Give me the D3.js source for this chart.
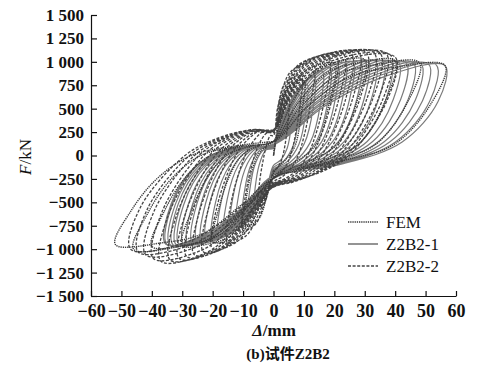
<!DOCTYPE html>
<html>
<head>
<meta charset="utf-8">
<script src="https://cdn.jsdelivr.net/npm/d3@7"></script>
<style>
  body { margin: 0; background: #fff; }
  text { font-family: "Liberation Serif", "Times New Roman", serif; fill: #111; }
</style>
</head>
<body>
<div id="chart"></div>
<script>
// Axis ticks
const xTicks = [-60, -50, -40, -30, -20, -10, 0, 10, 20, 30, 40, 50, 60];
const yTicks = [-1500, -1250, -1000, -750, -500, -250, 0, 250, 500, 750, 1000, 1250, 1500];

// Series names (legend order)
const seriesNames = ["FEM", "Z2B2-1", "Z2B2-2"];

// FEM hysteresis loops: [displacement mm, force kN], one cycle per row
const femCycles = [
  [[0,0],[2,440],[4.5,704],[7,784],[10,800],[9.1,440],[7,96],[4.2,-38],[1.8,-113],[0,-188],[-2,-413],[-4.5,-660],[-7,-735],[-10,-750],[-9,-465],[-7.3,-188],[-5.2,0],[-2.5,98]],
  [[0,147],[4,539],[9,862],[14,960],[20,980],[18.2,539],[14,118],[8.4,-46],[3.6,-138],[0,-230],[-4,-506],[-9,-810],[-14,-902],[-20,-920],[-18,-570],[-14.6,-230],[-10.4,0],[-5,102]],
  [[0,153],[6,561],[13.5,898],[21,1000],[30,1020],[27.3,561],[21,122],[12.6,-48],[5.4,-144],[0,-240],[-6,-528],[-13.5,-845],[-21,-941],[-30,-960],[-27,-595],[-21.9,-240],[-15.6,0],[-7.5,101]],
  [[0,152],[8,556],[18,889],[28,990],[40,1010],[36.4,556],[28,121],[16.8,-49],[7.2,-146],[0,-243],[-8,-534],[-18,-854],[-28,-951],[-40,-970],[-36,-601],[-29.2,-243],[-20.8,0],[-10,99]],
  [[0,149],[9.6,545],[21.6,871],[33.6,970],[48,990],[43.7,545],[33.6,119],[20.2,-50],[8.6,-150],[0,-250],[-9.2,-550],[-20.7,-880],[-32.2,-980],[-46,-1000],[-41.4,-620],[-33.6,-250],[-23.9,0],[-11.5,96]],
  [[0,144],[11.3,528],[25.4,845],[39.5,941],[56.4,960],[51.3,528],[39.5,115],[23.7,-48],[10.2,-143],[0,-238],[-10.4,-523],[-23.4,-836],[-36.4,-931],[-52,-950],[-46.8,-589],[-38,-238],[-27,0],[-13,100],[0,150]]
];

// Test specimen Z2B2-1
const z2b21Cycles = [
  [[0,0],[1.8,286],[3.9,458],[6,520],[5.8,312],[4.5,78],[2.4,-48],[0,-106],[-1.8,-288],[-3.9,-432],[-6,-480],[-5.7,-264],[-4.3,-58],[-2.4,61]],
  [[0,78],[2.6,358],[5.5,572],[8.5,650],[8.2,390],[6.4,98],[3.4,-59],[0,-130],[-2.4,-354],[-5.2,-531],[-8,-590],[-7.6,-325],[-5.8,-71],[-3.2,61]],
  [[0,91],[3.3,418],[7.2,669],[11,760],[10.6,456],[8.3,114],[4.4,-68],[0,-150],[-3,-408],[-6.5,-612],[-10,-680],[-9.5,-374],[-7.2,-82],[-4,72]],
  [[0,101],[4.1,462],[8.8,739],[13.5,840],[13,504],[10.1,126],[5.4,-75],[0,-164],[-3.6,-447],[-7.8,-671],[-12,-745],[-11.4,-410],[-8.6,-89],[-4.8,72]],
  [[0,108],[4.8,495],[10.4,792],[16,900],[15.4,540],[12,135],[6.4,-80],[0,-176],[-4.2,-480],[-9.1,-720],[-14,-800],[-13.3,-440],[-10.1,-96],[-5.6,78]],
  [[0,113],[5.6,517],[12,827],[18.5,940],[17.8,564],[13.9,141],[7.4,-84],[0,-185],[-4.8,-504],[-10.4,-756],[-16,-840],[-15.2,-462],[-11.5,-101],[-6.4,78]],
  [[0,116],[6.3,534],[13.7,854],[21,970],[20.2,582],[15.8,146],[8.4,-87],[0,-191],[-5.4,-522],[-11.7,-783],[-18,-870],[-17.1,-479],[-13,-104],[-7.2,80]],
  [[0,119],[7.1,545],[15.3,871],[23.5,990],[22.6,594],[17.6,149],[9.4,-90],[0,-197],[-6,-537],[-13,-806],[-20,-895],[-19,-492],[-14.4,-107],[-8,80]],
  [[0,120],[7.8,550],[16.9,880],[26,1000],[25,600],[19.5,150],[10.4,-91],[0,-200],[-6.6,-546],[-14.3,-819],[-22,-910],[-20.9,-500],[-15.8,-109],[-8.8,81]],
  [[0,121],[8.6,553],[18.5,884],[28.5,1005],[27.4,603],[21.4,151],[11.4,-92],[0,-203],[-7.1,-553],[-15.3,-830],[-23.5,-922],[-22.3,-507],[-16.9,-111],[-9.4,81]],
  [[0,121],[9.3,556],[20.2,889],[31,1010],[29.8,606],[23.3,152],[12.4,-93],[0,-205],[-7.5,-558],[-16.3,-837],[-25,-930],[-23.8,-512],[-18,-112],[-10,80]],
  [[0,121],[10.1,554],[21.8,887],[33.5,1008],[32.2,605],[25.1,151],[13.4,-94],[0,-207],[-8,-564],[-17.2,-846],[-26.5,-940],[-25.2,-517],[-19.1,-113],[-10.6,80]],
  [[0,121],[10.8,553],[23.4,884],[36,1005],[34.6,603],[27,151],[14.4,-95],[0,-208],[-8.4,-567],[-18.2,-851],[-28,-945],[-26.6,-520],[-20.2,-113],[-11.2,80]],
  [[0,120],[11.6,552],[25,883],[38.5,1003],[37,602],[28.9,150],[15.4,-95],[0,-209],[-8.9,-569],[-19.2,-853],[-29.5,-948],[-28,-521],[-21.2,-114],[-11.8,80]],
  [[0,120],[12.3,550],[26.7,880],[41,1000],[39.4,600],[30.8,150],[16.4,-95],[0,-209],[-9.3,-570],[-20.2,-855],[-31,-950],[-29.5,-523],[-22.3,-114],[-12.4,79]],
  [[0,119],[13.1,547],[28.3,876],[43.5,995],[41.8,597],[32.6,149],[17.4,-95],[0,-209],[-9.6,-571],[-20.8,-857],[-32,-952],[-30.4,-524],[-23,-114],[-12.8,79]],
  [[0,119],[13.8,545],[29.9,871],[46,990],[44.2,594],[34.5,149],[18.4,-96],[0,-210],[-9.9,-573],[-21.5,-860],[-33,-955],[-31.4,-525],[-23.8,-115],[-13.2,78]],
  [[0,118],[14.6,540],[31.5,864],[48.5,982],[46.6,589],[36.4,147],[19.4,-95],[0,-210],[-10.2,-572],[-22.1,-858],[-34,-953],[-32.3,-524],[-24.5,-114],[-13.6,78]],
  [[0,117],[15.3,536],[33.2,858],[51,975],[49,585],[38.3,146],[20.4,-95],[0,-209],[-10.5,-570],[-22.8,-855],[-35,-950],[-33.3,-523],[-25.2,-114],[-14,77]],
  [[0,116],[16.1,532],[34.8,852],[53.5,968],[51.4,581],[40.1,145],[21.4,-95],[0,-208],[-10.7,-567],[-23.1,-851],[-35.5,-945],[-33.7,-520],[-25.6,-113],[-14.2,77]],
  [[0,115],[16.9,528],[36.7,845],[56.4,960],[54.1,576],[42.3,144],[22.6,-90],[0,-200]]
];

// Test specimen Z2B2-2
const z2b22Cycles = [
  [[0,0],[1.5,300],[2.8,500],[5,600],[4.65,330],[3.1,0],[2,-94],[1,-138],[0,-165],[-0.75,-248],[-1.75,-385],[-3,-506],[-5,-550],[-4.65,-303],[-3.1,0],[-2,145],[-1,213]],
  [[0,213],[1.35,510],[4.05,782],[9,850],[8.4,468],[5.6,0],[3.6,-136],[1.8,-200],[0,-240],[-1.5,-360],[-3.5,-560],[-6,-736],[-10,-800],[-9.3,-440],[-6.2,0],[-4,167],[-2,245]],
  [[0,245],[1.95,588],[5.85,902],[13,980],[12.1,539],[8.1,0],[5.2,-158],[2.6,-233],[0,-279],[-2.25,-419],[-5.25,-651],[-9,-856],[-15,-930],[-14,-512],[-9.3,0],[-6,179],[-3,263]],
  [[0,263],[2.7,630],[8.1,966],[18,1050],[16.7,578],[11.2,0],[7.2,-170],[3.6,-250],[0,-300],[-3,-450],[-7,-700],[-12,-920],[-20,-1000],[-18.6,-550],[-12.4,0],[-8,184],[-4,270]],
  [[0,266],[3.1,639],[9.2,980],[20.5,1065],[19.1,586],[12.7,0],[8.2,-175],[4.1,-258],[0,-309],[-3.45,-464],[-8.05,-721],[-13.8,-948],[-23,-1030],[-21.4,-567],[-14.3,0],[-9.2,184],[-4.6,270]],
  [[0,270],[3.45,648],[10.35,994],[23,1080],[21.4,594],[14.3,0],[9.2,-180],[4.6,-265],[0,-318],[-3.9,-477],[-9.1,-742],[-15.6,-975],[-26,-1060],[-24.2,-583],[-16.1,0],[-10.4,187],[-5.2,275]],
  [[0,273],[3.8,654],[11.5,1003],[25.5,1090],[23.7,600],[15.8,0],[10.2,-184],[5.1,-270],[0,-324],[-4.3,-486],[-10,-756],[-17.1,-994],[-28.5,-1080],[-26.5,-594],[-17.7,0],[-11.4,187],[-5.7,275]],
  [[0,275],[4.2,660],[12.6,1012],[28,1100],[26,605],[17.4,0],[11.2,-187],[5.6,-275],[0,-330],[-4.65,-495],[-10.85,-770],[-18.6,-1012],[-31,-1100],[-28.8,-605],[-19.2,0],[-12.4,187],[-6.2,275]],
  [[0,275],[4.6,660],[13.7,1012],[30.5,1100],[28.4,605],[18.9,0],[12.2,-190],[6.1,-279],[0,-335],[-5.1,-502],[-11.9,-781],[-20.4,-1026],[-34,-1115],[-31.6,-613],[-21.1,0],[-13.6,187],[-6.8,275]],
  [[0,275],[4.95,660],[14.85,1012],[33,1100],[30.7,605],[20.5,0],[13.2,-192],[6.6,-283],[0,-339],[-5.55,-509],[-12.95,-791],[-22.2,-1040],[-37,-1130],[-34.4,-622],[-22.9,0],[-14.8,185],[-7.4,273]],
  [[0,274],[5.25,657],[15.75,1007],[35,1095],[32.6,602],[21.7,0],[14,-187],[7,-275],[0,-330],[-5.9,-495],[-13.8,-770],[-23.7,-1012],[-39.5,-1100],[-36.7,-605],[-24.5,0],[-15.8,185],[-7.9,273]],
  [[0,273],[5.55,654],[16.65,1003],[37,1090],[34.4,600],[22.9,0],[14.8,-180],[7.4,-265],[0,-318],[-6.3,-477],[-14.7,-742],[-25.2,-975],[-42,-1060],[-39.1,-583],[-26,0],[-16.8,179],[-8.4,263]],
  [[0,268],[5.8,642],[17.3,984],[38.5,1070],[35.8,589],[23.9,0],[15.4,-175],[7.7,-258],[0,-309],[-6.7,-464],[-15.6,-721],[-26.7,-948],[-44.5,-1030],[-41.4,-567],[-27.6,0],[-17.8,179],[-8.9,263]],
  [[0,263],[6,630],[18,966],[40,1050],[37.2,578],[24.8,0],[16,-170],[8,-250],[0,-300],[-7.05,-450],[-16.45,-700],[-28.2,-920],[-47,-1000],[-43.7,-550],[-29.1,0],[-18.8,179],[-9.4,263],[0,270]]
];

function drawChart() {
    const W = 477, H = 369;
    const margin = {top: 15, right: 21, bottom: 73, left: 91};

    d3.select("#chart").selectAll("*").remove();

    const svg = d3.select("#chart")
        .append("svg")
        .attr("width", W)
        .attr("height", H);

    const x = d3.scaleLinear().domain([-60, 60]).range([margin.left, W - margin.right]);
    const y = d3.scaleLinear().domain([-1500, 1500]).range([H - margin.bottom, margin.top]);

    // number format with a space as thousands separator, real minus sign
    const fmt = v => {
        const s = String(Math.abs(v));
        const t = s.length > 3 ? s.slice(0, -3) + " " + s.slice(-3) : s;
        return (v < 0 ? "\u2212" : "") + t;
    };

    // Styles for each series
    const styles = {
        "FEM":    {stroke: "#3a3a3a", width: 1.4, dash: "1.3,0.9"},
        "Z2B2-1": {stroke: "#7a7a7a", width: 1.2, dash: null},
        "Z2B2-2": {stroke: "#454545", width: 1.3, dash: "3,1.6"}
    };

    const line = d3.line()
        .x(d => x(d[0]))
        .y(d => y(d[1]))
        .curve(d3.curveCatmullRom.alpha(0.5));

    const plot = svg.append("g");

    function drawSeries(cycles, name) {
        const st = styles[name];
        const pts = cycles.flat();
        plot.append("path")
            .datum(pts)
            .attr("fill", "none")
            .attr("stroke", st.stroke)
            .attr("stroke-width", st.width)
            .attr("stroke-dasharray", st.dash)
            .attr("d", line);
    }

    drawSeries(z2b21Cycles, "Z2B2-1");
    drawSeries(z2b22Cycles, "Z2B2-2");
    drawSeries(femCycles, "FEM");

    // Axes (ticks pointing inward)
    const xAxis = svg.append("g")
        .attr("transform", `translate(0,${H - margin.bottom})`)
        .call(d3.axisBottom(x).tickValues(xTicks).tickFormat(fmt)
            .tickSizeInner(-5).tickSizeOuter(0).tickPadding(8));

    const yAxis = svg.append("g")
        .attr("transform", `translate(${margin.left},0)`)
        .call(d3.axisLeft(y).tickValues(yTicks).tickFormat(fmt)
            .tickSizeInner(-6).tickSizeOuter(0).tickPadding(7));

    [xAxis, yAxis].forEach(a => {
        a.selectAll("path").attr("stroke", "#111").attr("stroke-width", 1.2);
        a.selectAll("line").attr("stroke", "#111").attr("stroke-width", 1.2);
        a.selectAll("text")
            .style("font-family", "'Liberation Serif', 'Times New Roman', serif")
            .style("font-size", "17px")
            .style("font-weight", "bold")
            .attr("fill", "#111");
    });
    xAxis.selectAll("text").style("font-size", "18px");

    // Axis titles
    const yTitle = svg.append("text")
        .attr("transform", `translate(31,157) rotate(-90)`)
        .attr("text-anchor", "middle")
        .style("font-size", "17px");
    yTitle.append("tspan").style("font-style", "italic").text("F");
    yTitle.append("tspan").text("/kN");

    const xTitle = svg.append("text")
        .attr("x", 274)
        .attr("y", 336)
        .attr("text-anchor", "middle")
        .style("font-size", "17px")
        .style("font-weight", "bold");
    xTitle.append("tspan").style("font-style", "italic").text("Δ");
    xTitle.append("tspan").text("/mm");

    svg.append("text")
        .attr("x", 288)
        .attr("y", 359)
        .attr("text-anchor", "middle")
        .style("font-size", "15px")
        .style("font-weight", "bold")
        .style("font-family", "'Liberation Serif', 'Noto Sans CJK SC', serif")
        .text("(b)试件Z2B2");

    // Legend
    const legend = svg.append("g");
    seriesNames.forEach((name, i) => {
        const st = styles[name];
        const ly = 222 + i * 22;
        legend.append("line")
            .attr("x1", 348).attr("x2", 378)
            .attr("y1", ly).attr("y2", ly)
            .attr("stroke", st.stroke)
            .attr("stroke-width", 1.6)
            .attr("stroke-dasharray", st.dash);
        legend.append("text")
            .attr("x", 386)
            .attr("y", ly + 6)
            .style("font-size", "17px")
            .text(name);
    });
}

drawChart();
</script>
</body>
</html>
